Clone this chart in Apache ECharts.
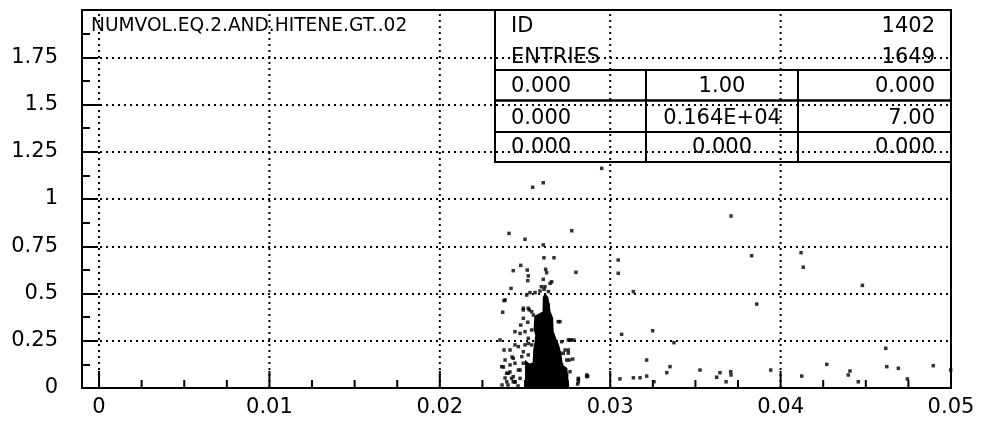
<!DOCTYPE html>
<html>
<head>
<meta charset="utf-8">
<script src="https://cdn.jsdelivr.net/npm/echarts@6/dist/echarts.min.js"></script>
<style>
  html, body { margin: 0; padding: 0; background: #fff; }
  #chart { width: 981px; height: 421px; }
</style>
</head>
<body>
<div id="chart"></div>
<script>
// ---- histogram 1402 : scatter of entries ----
const histTitle = 'NUMVOL.EQ.2.AND.HITENE.GT..02';

// axis ranges
const xRange = [-0.001, 0.05];
const yRange = [0, 2];

// x axis ticks / labels / grid
const xTickValues = [0, 0.01, 0.02, 0.03, 0.04, 0.05];
const xTickLabels = ['0', '0.01', '0.02', '0.03', '0.04', '0.05'];
const xMinorTickValues = [0.0025, 0.005, 0.0075, 0.0125, 0.015, 0.0175, 0.0225, 0.025,
  0.0275, 0.0325, 0.035, 0.0375, 0.0425, 0.045, 0.0475];
const xGridValues = [0, 0.01, 0.02, 0.03, 0.04];

// y axis labels (step 0.25)
const yTickLabels = ['0', '0.25', '0.5', '0.75', '1', '1.25', '1.5', '1.75', ''];

// statistics box
const statsId = '1402';
const statsEntries = '1649';
const statsCells = [
  ['0.000', '1.00', '0.000'],
  ['0.000', '0.164E+04', '7.00'],
  ['0.000', '0.000', '0.000']
];

// outline of the densely filled core of the distribution
const coreOutline = [
  [0.02500, 0.000], [0.02500, 0.150], [0.02525, 0.130], [0.02545, 0.135],
  [0.02548, 0.200], [0.02555, 0.240], [0.02560, 0.280], [0.02550, 0.310],
  [0.02555, 0.381], [0.02585, 0.395], [0.02603, 0.405], [0.02604, 0.480],
  [0.02617, 0.503], [0.02637, 0.480], [0.02650, 0.405], [0.02665, 0.370],
  [0.02668, 0.300], [0.02682, 0.265], [0.02700, 0.228], [0.02715, 0.175],
  [0.02722, 0.122], [0.02748, 0.106], [0.02760, 0.000]
];

// isolated entries
const scatterPoints = [
  [0.02545, 1.062], [0.02607, 1.086], [0.02950, 1.162], [0.02774, 0.832],
  [0.02406, 0.818], [0.02500, 0.787], [0.02607, 0.757], [0.02611, 0.689],
  [0.02670, 0.689], [0.02475, 0.649], [0.02431, 0.621], [0.02513, 0.624],
  [0.02621, 0.628], [0.02627, 0.610], [0.02799, 0.612], [0.02519, 0.593],
  [0.02516, 0.568], [0.02607, 0.575], [0.02657, 0.562], [0.02418, 0.527],
  [0.02596, 0.536], [0.02529, 0.505], [0.02559, 0.505], [0.02588, 0.513],
  [0.02637, 0.510], [0.03047, 0.677], [0.03047, 0.607], [0.03709, 0.910],
  [0.03830, 0.700], [0.04120, 0.716], [0.04133, 0.639], [0.04480, 0.543],
  [0.03136, 0.510], [0.03860, 0.444], [0.02377, 0.462], [0.03249, 0.303],
  [0.03067, 0.284], [0.03374, 0.240], [0.03214, 0.148], [0.04617, 0.210],
  [0.03351, 0.113], [0.03332, 0.081], [0.03527, 0.095], [0.03644, 0.081],
  [0.03707, 0.086], [0.03625, 0.057], [0.03709, 0.069], [0.03942, 0.095],
  [0.04271, 0.125], [0.04407, 0.090], [0.04623, 0.113], [0.04691, 0.104],
  [0.04896, 0.118], [0.04124, 0.063], [0.04397, 0.069], [0.04456, 0.033],
  [0.04744, 0.048], [0.04998, 0.095], [0.03057, 0.048], [0.03136, 0.054],
  [0.03175, 0.054], [0.03214, 0.063], [0.03257, 0.033], [0.03680, 0.033],
  [0.02868, 0.063], [0.02813, 0.046], [0.02809, 0.021], [0.02754, 0.254],
  [0.02705, 0.351], [0.02735, 0.201], [0.02745, 0.148], [0.02754, 0.185],
  [0.02369, 0.401], [0.02490, 0.413], [0.02525, 0.413], [0.02539, 0.404],
  [0.02441, 0.298], [0.02475, 0.333], [0.02647, 0.554], [0.02377, 0.201],
  [0.02431, 0.157], [0.02373, 0.111], [0.02392, 0.078], [0.02421, 0.051],
  [0.02431, 0.033], [0.02481, 0.166], [0.02461, 0.219], [0.02705, 0.184],
  [0.02754, 0.201], [0.02760, 0.148], [0.02780, 0.153], [0.02813, 0.051],
  [0.02862, 0.060], [0.02383, 0.053], [0.02412, 0.085], [0.02441, 0.032],
  [0.02471, 0.095], [0.02424, 0.164], [0.02400, 0.016], [0.02459, 0.011],
  [0.02365, 0.016], [0.02519, 0.236], [0.02490, 0.131], [0.02770, 0.254],
  [0.02787, 0.254], [0.02383, 0.466], [0.02490, 0.422], [0.02549, 0.386],
  [0.02695, 0.351], [0.02510, 0.492], [0.02519, 0.422], [0.02637, 0.439],
  [0.02490, 0.369], [0.02516, 0.348], [0.02539, 0.307], [0.02500, 0.298],
  [0.02471, 0.289], [0.02519, 0.263], [0.02353, 0.254], [0.02441, 0.228],
  [0.02500, 0.228], [0.02539, 0.228], [0.02412, 0.201], [0.02490, 0.192],
  [0.02519, 0.175], [0.02715, 0.245], [0.02764, 0.254], [0.02686, 0.210],
  [0.02725, 0.184], [0.02715, 0.122], [0.02383, 0.148], [0.02441, 0.131],
  [0.02412, 0.122], [0.02363, 0.113], [0.02461, 0.095], [0.02402, 0.078],
  [0.02431, 0.060], [0.02471, 0.051], [0.02441, 0.033], [0.02393, 0.033],
  [0.02764, 0.086], [0.02745, 0.069], [0.02813, 0.033], [0.02862, 0.069],
  [0.02617, 0.536], [0.02612, 0.522]
];

const FONT = 'DejaVu Sans';
const chart = echarts.init(document.getElementById('chart'), null, { renderer: 'canvas' });

function segment(p0, p1, style) {
  return { type: 'line', shape: { x1: p0[0], y1: p0[1], x2: p1[0], y2: p1[1] }, style: style };
}

function statsText(x, y, text, align) {
  return { type: 'text', x: x, y: y, z: 10,
    style: { text: text, fontFamily: FONT, fontSize: 21, fill: '#000',
      textAlign: align, textVerticalAlign: 'middle' } };
}

function statsLine(x1, y1, x2, y2, w) {
  return { type: 'line', z: 10, shape: { x1: x1, y1: y1, x2: x2, y2: y2 },
    style: { stroke: '#000', lineWidth: w } };
}

const statsElements = [
  statsLine(495, 10, 495, 163, 2),
  statsLine(495, 70, 951, 70, 2),
  statsLine(495, 100.5, 951, 100.5, 2.5),
  statsLine(495, 132, 951, 132, 2),
  statsLine(495, 162, 951, 162, 2),
  statsLine(646, 70, 646, 163, 2),
  statsLine(798, 70, 798, 163, 2),
  statsText(511, 27, 'ID', 'left'),
  statsText(935, 27, statsId, 'right'),
  statsText(511, 58, 'ENTRIES', 'left'),
  statsText(935, 58, statsEntries, 'right')
];
const cellRowsY = [87, 118.5, 148];
const cellColX = [511, 722, 935];
const cellAlign = ['left', 'center', 'right'];
statsCells.forEach(function (row, r) {
  row.forEach(function (txt, c) {
    statsElements.push(statsText(cellColX[c], cellRowsY[r], txt, cellAlign[c]));
  });
});

const option = {
  backgroundColor: '#fff',
  animation: false,
  grid: {
    left: 82, top: 10, right: 30, bottom: 33,
    show: true, borderColor: '#000', borderWidth: 2, backgroundColor: 'transparent'
  },
  xAxis: {
    type: 'value', min: xRange[0], max: xRange[1],
    axisLine: { show: false, onZero: false }, axisTick: { show: false },
    axisLabel: { show: false }, splitLine: { show: false }
  },
  yAxis: {
    type: 'value', min: yRange[0], max: yRange[1], interval: 0.25,
    axisLine: { show: false, onZero: false },
    axisTick: { show: true, inside: true, length: 16, lineStyle: { color: '#000', width: 2 } },
    minorTick: { show: true, splitNumber: 2, length: 8, lineStyle: { color: '#000', width: 2 } },
    axisLabel: {
      color: '#000', fontFamily: FONT, fontSize: 21, margin: 24,
      formatter: function (v) { return yTickLabels[Math.round(v / 0.25)] || ''; }
    },
    splitLine: { show: true, lineStyle: { color: '#000', width: 2, type: [2, 4] } }
  },
  graphic: {
    elements: [
      { type: 'text', left: 91, top: 17, z: 10,
        style: { text: histTitle, fontFamily: FONT, fontSize: 18.6, fill: '#000' } }
    ].concat(statsElements)
  },
  series: [
    {
      // vertical dotted grid lines
      type: 'custom', coordinateSystem: 'cartesian2d', silent: true,
      data: xGridValues.map(function (v) { return [v, 0]; }),
      encode: { x: 0, y: 1 },
      renderItem: function (params, api) {
        const x = api.value(0);
        return segment(api.coord([x, yRange[0]]), api.coord([x, yRange[1]]),
          { stroke: '#000', lineWidth: 2, lineDash: [2, 4] });
      }
    },
    {
      // major x ticks
      type: 'custom', coordinateSystem: 'cartesian2d', silent: true,
      data: xTickValues.map(function (v) { return [v, 0]; }),
      encode: { x: 0, y: 1 },
      renderItem: function (params, api) {
        const p = api.coord([api.value(0), yRange[0]]);
        return segment(p, [p[0], p[1] - 17], { stroke: '#000', lineWidth: 2 });
      }
    },
    {
      // minor x ticks
      type: 'custom', coordinateSystem: 'cartesian2d', silent: true,
      data: xMinorTickValues.map(function (v) { return [v, 0]; }),
      encode: { x: 0, y: 1 },
      renderItem: function (params, api) {
        const p = api.coord([api.value(0), yRange[0]]);
        return segment(p, [p[0], p[1] - 8], { stroke: '#000', lineWidth: 2 });
      }
    },
    {
      // x tick labels
      type: 'custom', coordinateSystem: 'cartesian2d', silent: true,
      data: xTickValues.map(function (v) { return [v, 0]; }),
      encode: { x: 0, y: 1 },
      renderItem: function (params, api) {
        const p = api.coord([api.value(0), yRange[0]]);
        return { type: 'text', x: p[0], y: p[1] + 20,
          style: { text: xTickLabels[params.dataIndex], fontFamily: FONT, fontSize: 21,
            fill: '#000', textAlign: 'center', textVerticalAlign: 'middle' } };
      }
    },
    {
      // dense core of the distribution
      type: 'custom', coordinateSystem: 'cartesian2d', silent: true,
      data: coreOutline,
      encode: { x: 0, y: 1 },
      renderItem: function (params, api) {
        if (params.dataIndex !== 0) return null;
        return { type: 'polygon',
          shape: { points: coreOutline.map(function (p) { return api.coord(p); }) },
          style: { fill: '#000' } };
      }
    },
    {
      type: 'scatter', symbol: 'rect', symbolSize: 3.5, silent: true,
      itemStyle: { color: '#000' },
      data: scatterPoints
    }
  ]
};

chart.setOption(option);
</script>
</body>
</html>
